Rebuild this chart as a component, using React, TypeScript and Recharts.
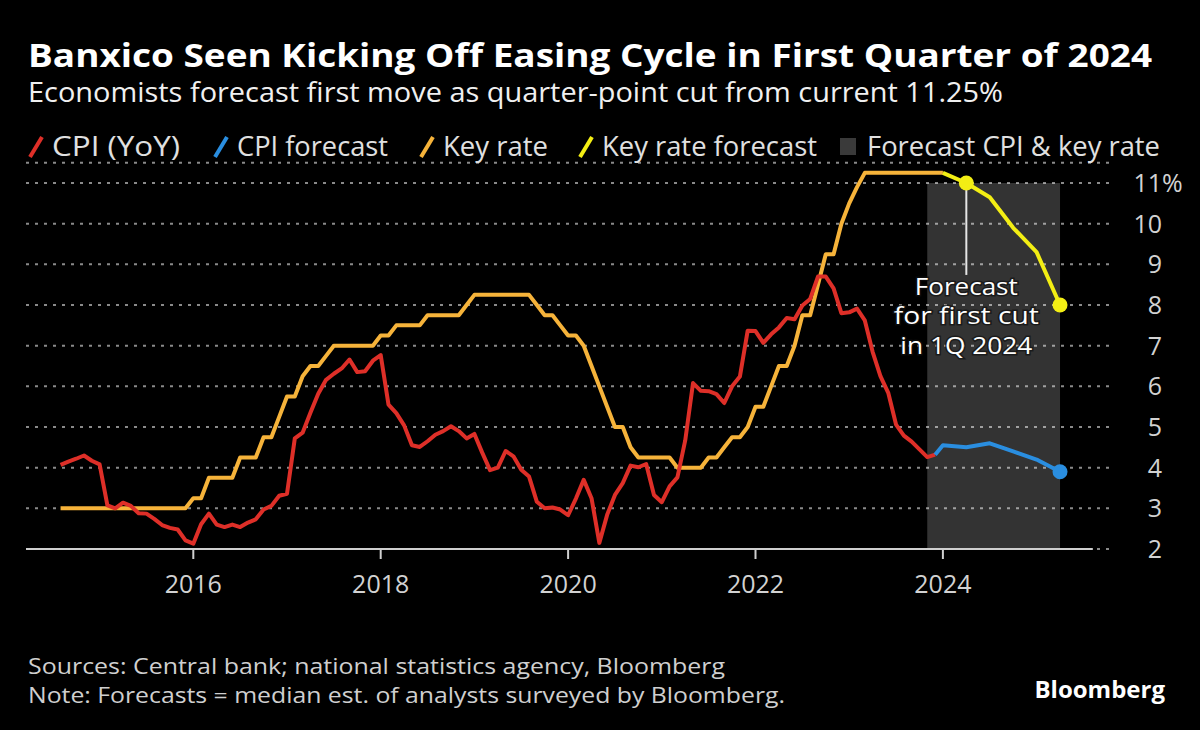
import React from "react";
import {
  CartesianGrid,
  Line,
  LineChart,
  ReferenceArea,
  ReferenceLine,
  XAxis,
  YAxis,
} from "recharts";

// CPI YoY %, monthly, Jul 2014 - Nov 2023
const cpiYoY = [
  4.07, 4.15, 4.22, 4.3, 4.17, 4.08,
  3.07, 3.0, 3.14, 3.06, 2.88, 2.87, 2.74, 2.59, 2.52, 2.48, 2.21, 2.13,
  2.61, 2.87, 2.6, 2.54, 2.6, 2.54, 2.65, 2.73, 2.97, 3.06, 3.31, 3.36,
  4.72, 4.86, 5.35, 5.82, 6.16, 6.31, 6.44, 6.66, 6.35, 6.37, 6.63, 6.77,
  5.55, 5.34, 5.04, 4.55, 4.51, 4.65, 4.81, 4.9, 5.02, 4.9, 4.72, 4.83,
  4.37, 3.94, 4.0, 4.41, 4.28, 3.95, 3.78, 3.16, 3.0, 3.02, 2.97, 2.83,
  3.24, 3.7, 3.25, 2.15, 2.84, 3.33, 3.62, 4.05, 4.01, 4.09, 3.33, 3.15,
  3.54, 3.76, 4.67, 6.08, 5.89, 5.88, 5.81, 5.59, 6.0, 6.24, 7.37, 7.36,
  7.07, 7.28, 7.45, 7.68, 7.65, 7.99, 8.15, 8.7, 8.7, 8.41, 7.8, 7.82,
  7.91, 7.62, 6.85, 6.25, 5.84, 5.06, 4.79, 4.64, 4.45, 4.26, 4.32,
];

// Key rate %, monthly, Jul 2014 - Dec 2023
const keyRate = [
  3.0, 3.0, 3.0, 3.0, 3.0, 3.0,
  3.0, 3.0, 3.0, 3.0, 3.0, 3.0, 3.0, 3.0, 3.0, 3.0, 3.0, 3.25,
  3.25, 3.75, 3.75, 3.75, 3.75, 4.25, 4.25, 4.25, 4.75, 4.75, 5.25, 5.75,
  5.75, 6.25, 6.5, 6.5, 6.75, 7.0, 7.0, 7.0, 7.0, 7.0, 7.0, 7.25,
  7.25, 7.5, 7.5, 7.5, 7.5, 7.75, 7.75, 7.75, 7.75, 7.75, 8.0, 8.25,
  8.25, 8.25, 8.25, 8.25, 8.25, 8.25, 8.25, 8.0, 7.75, 7.75, 7.5, 7.25,
  7.25, 7.0, 6.5, 6.0, 5.5, 5.0, 5.0, 4.5, 4.25, 4.25, 4.25, 4.25,
  4.25, 4.0, 4.0, 4.0, 4.0, 4.25, 4.25, 4.5, 4.75, 4.75, 5.0, 5.5,
  5.5, 6.0, 6.5, 6.5, 7.0, 7.75, 7.75, 8.5, 9.25, 9.25, 10.0, 10.5,
  10.9, 11.25, 11.25, 11.25, 11.25, 11.25, 11.25, 11.25, 11.25, 11.25, 11.25, 11.25,
];

// forecasts, quarter ends, joined to the last actual reading
const keyRateForecastDates = [2024.0, 2024.25, 2024.5, 2024.75, 2025.0, 2025.25];
const keyRateForecast = [11.25, 11.0, 10.65, 9.9, 9.3, 8.0];
const cpiForecastDates = [2023.917, 2024.0, 2024.25, 2024.5, 2024.75, 2025.0, 2025.25];
const cpiForecast = [4.32, 4.55, 4.5, 4.6, 4.4, 4.2, 3.9];

const forecastWindow = [2023.833, 2025.25];
const firstCut = { t: 2024.25, v: 11.0 };

const yearTicks = [2016, 2018, 2020, 2022, 2024];
const rateTicks = [2, 3, 4, 5, 6, 7, 8, 9, 10, 11];
const xDomain = [2014.2145, 2025.8367];

const RED = "#de2f28";
const BLUE = "#2a8ee0";
const ORANGE = "#f6b33a";
const YELLOW = "#f3ee14";

const monthEnd = (i: number) => 2014 + (7 + i) / 12;
const cpiData = cpiYoY.map((v, i) => ({ t: monthEnd(i), v }));
const keyRateData = keyRate.map((v, i) => ({ t: monthEnd(i), v }));
const keyFcData = keyRateForecast.map((v, i) => ({ t: keyRateForecastDates[i], v }));
const cpiFcData = cpiForecast.map((v, i) => ({ t: cpiForecastDates[i], v }));

const FONT = "'Open Sans', 'Noto Sans', sans-serif";

const YearTick = ({ x, y, payload }: any) => (
  <text x={x} y={y} dy={32} textAnchor="middle" fill="#d2d2d2" fontSize={25} fontFamily={FONT}>
    {payload.value}
  </text>
);

// tickSize/tickMargin are 0 on the y axis, so x is the plot's right edge
const RateTick = ({ x, y, payload }: any) => (
  <g>
    <text x={x + 47} y={y} dy={9} textAnchor="end" fill="#d2d2d2" fontSize={25} fontFamily={FONT}>
      {payload.value}
    </text>
    {payload.value === 11 && (
      <text x={x + 47} y={y} dy={9} fill="#d2d2d2" fontSize={25} fontFamily={FONT}>
        %
      </text>
    )}
  </g>
);

const keyDot = (props: any) => {
  const { cx, cy, index } = props;
  if (index !== 1 && index !== keyRateForecast.length - 1) return <g key={`k${index}`} />;
  return <circle key={`k${index}`} cx={cx} cy={cy} r={7.5} fill={YELLOW} />;
};

const cpiDot = (props: any) => {
  const { cx, cy, index } = props;
  if (index !== cpiForecast.length - 1) return <g key={`c${index}`} />;
  return <circle key={`c${index}`} cx={cx} cy={cy} r={7.5} fill={BLUE} />;
};

const noteLines = [
  { text: "Forecast", w: 103 },
  { text: "for first cut", w: 145 },
  { text: "in 1Q 2024", w: 132 },
];

const AnnotationLabel = (props: any) => {
  const vb = props.viewBox || {};
  const cx = (vb.x || 0) + (vb.width || 0) / 2;
  const bottom = (vb.y || 0) + (vb.height || 0);
  return (
    <g>
      {noteLines.map((l, i) => (
        <text
          key={l.text}
          x={cx - l.w / 2}
          y={bottom + 20 + i * 29.5}
          textLength={l.w}
          lengthAdjust="spacingAndGlyphs"
          fill="#ffffff"
          fontSize={23.5}
          fontFamily={FONT}
          stroke="#111"
          strokeOpacity={0.7}
          strokeWidth={3}
          paintOrder="stroke"
        >
          {l.text}
        </text>
      ))}
    </g>
  );
};

const legend = [
  { label: "CPI (YoY)", color: RED, x: 52, w: 128 },
  { label: "CPI forecast", color: BLUE, x: 237, w: 151 },
  { label: "Key rate", color: ORANGE, x: 443, w: 105 },
  { label: "Key rate forecast", color: YELLOW, x: 602, w: 215 },
];

export default function App() {
  return (
    <div style={{ position: "relative", width: 1200, height: 730, background: "#000", overflow: "hidden" }}>
      <style>{`body{margin:0;background:#000}`}</style>
      <LineChart
        width={1200}
        height={730}
        margin={{ top: 162.7, right: 0, bottom: 0, left: 26 }}
        style={{ position: "absolute", left: 0, top: 0 }}
      >
        <CartesianGrid vertical={false} stroke="#8a8a8a" strokeWidth={2} strokeDasharray="3 6" />
        <ReferenceArea
          x1={forecastWindow[0]}
          x2={forecastWindow[1]}
          y1={2}
          y2={11}
          fill="#ffffff"
          fillOpacity={0.2}
          stroke="none"
        />
        <XAxis
          type="number"
          dataKey="t"
          domain={xDomain}
          ticks={yearTicks}
          allowDataOverflow
          height={181}
          axisLine={false}
          tickLine={{ stroke: "#cfcfcf", strokeWidth: 2 }}
          tickSize={10}
          tick={<YearTick />}
        />
        <YAxis
          orientation="right"
          width={85}
          domain={[2, 11.5]}
          ticks={rateTicks}
          axisLine={false}
          tickLine={false}
          tickSize={0}
          tickMargin={0}
          tick={<RateTick />}
        />
        <ReferenceLine
          segment={[
            { x: xDomain[0], y: 2 },
            { x: 2025.6, y: 2 },
          ]}
          stroke="#cfcfcf"
          strokeWidth={2}
        />
        <Line data={keyRateData} dataKey="v" stroke={ORANGE} strokeWidth={4} dot={false} isAnimationActive={false} strokeLinejoin="round" />
        <Line data={keyFcData} dataKey="v" stroke={YELLOW} strokeWidth={4} dot={keyDot} isAnimationActive={false} strokeLinejoin="round" />
        <Line data={cpiData} dataKey="v" stroke={RED} strokeWidth={4} dot={false} isAnimationActive={false} strokeLinejoin="round" />
        <Line data={cpiFcData} dataKey="v" stroke={BLUE} strokeWidth={4} dot={cpiDot} isAnimationActive={false} strokeLinejoin="round" />
        <ReferenceLine
          segment={[
            { x: firstCut.t, y: firstCut.v },
            { x: firstCut.t, y: 8.74 },
          ]}
          stroke="#e6e6e6"
          strokeWidth={2}
          label={(p: any) => <AnnotationLabel {...p} />}
        />
      </LineChart>

      <svg
        width={1200}
        height={730}
        style={{ position: "absolute", left: 0, top: 0, pointerEvents: "none" }}
        fontFamily={FONT}
      >
        <text x={28} y={67} fill="#fff" fontSize={32} fontWeight={700} textLength={1124} lengthAdjust="spacingAndGlyphs">
          Banxico Seen Kicking Off Easing Cycle in First Quarter of 2024
        </text>
        <text x={28} y={102} fill="#f0f0f0" fontSize={26.5} textLength={975} lengthAdjust="spacingAndGlyphs">
          Economists forecast first move as quarter-point cut from current 11.25%
        </text>
        {legend.map((it) => (
          <g key={it.label}>
            <line x1={it.x - 22} y1={157} x2={it.x - 10} y2={137} stroke={it.color} strokeWidth={4} />
            <text x={it.x} y={156} fill="#e0e0e0" fontSize={27} textLength={it.w} lengthAdjust="spacingAndGlyphs">
              {it.label}
            </text>
          </g>
        ))}
        <rect x={840} y={138} width={16} height={17} fill="#3a3a3a" />
        <text x={867} y={156} fill="#e0e0e0" fontSize={27} textLength={293} lengthAdjust="spacingAndGlyphs">
          Forecast CPI &amp; key rate
        </text>
        <text x={28} y={674} fill="#cfcfcf" fontSize={22.5} textLength={697} lengthAdjust="spacingAndGlyphs">
          Sources: Central bank; national statistics agency, Bloomberg
        </text>
        <text x={28} y={703} fill="#cfcfcf" fontSize={22.5} textLength={757} lengthAdjust="spacingAndGlyphs">
          Note: Forecasts = median est. of analysts surveyed by Bloomberg.
        </text>
        <text x={1165} y={698} textAnchor="end" fill="#fff" fontSize={24} fontWeight={700}>
          Bloomberg
        </text>
      </svg>
    </div>
  );
}
